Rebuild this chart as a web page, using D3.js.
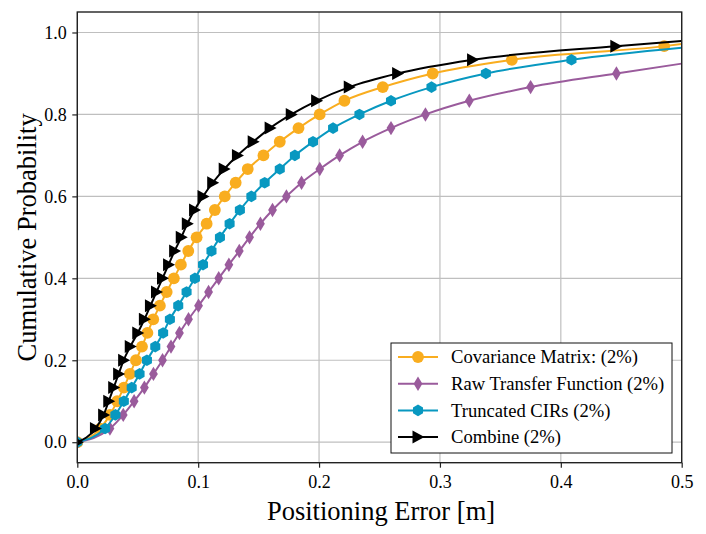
<!DOCTYPE html>
<html><head><meta charset="utf-8">
<script src="https://cdn.jsdelivr.net/npm/d3@7"></script>
<style>body{margin:0;background:#fff}svg{display:block}text{font-family:"Liberation Serif","DejaVu Serif",serif;}</style>
</head><body><svg id="c" width="706" height="534"></svg>
<script>
// probability levels at which markers sit
const levels = [0, 0.0333, 0.0667, 0.1, 0.1333, 0.1667, 0.2, 0.2333, 0.2667, 0.3, 0.3333, 0.3667, 0.4, 0.4333, 0.4667, 0.5, 0.5333, 0.5667, 0.6, 0.6333, 0.6667, 0.7, 0.7333, 0.7667, 0.8, 0.8333, 0.8667, 0.9, 0.9333, 0.9667];
// positioning error (m) at each level
const covX   = [0, 0.019, 0.027, 0.033, 0.0385, 0.0435, 0.0485, 0.0535, 0.058, 0.0628, 0.0683, 0.0739, 0.0799, 0.0857, 0.0918, 0.0987, 0.107, 0.1138, 0.122, 0.131, 0.141, 0.154, 0.1675, 0.183, 0.2005, 0.221, 0.2527, 0.294, 0.3595, 0.4855];
const rawX   = [0, 0.027, 0.038, 0.047, 0.0555, 0.063, 0.0705, 0.0775, 0.0845, 0.092, 0.1003, 0.1086, 0.117, 0.1254, 0.134, 0.1425, 0.1515, 0.1615, 0.173, 0.1855, 0.2006, 0.217, 0.236, 0.2595, 0.288, 0.3243, 0.375, 0.446];
const truncX = [0, 0.023, 0.0315, 0.0385, 0.045, 0.0515, 0.0576, 0.0645, 0.071, 0.0766, 0.0835, 0.0904, 0.0973, 0.104, 0.111, 0.118, 0.126, 0.1345, 0.144, 0.155, 0.1675, 0.18, 0.195, 0.2116, 0.2334, 0.2595, 0.293, 0.338, 0.4088];
const combX  = [0, 0.015, 0.0218, 0.026, 0.0301, 0.0342, 0.0383, 0.0438, 0.05, 0.0555, 0.0605, 0.0655, 0.0705, 0.0755, 0.0805, 0.086, 0.091, 0.097, 0.104, 0.112, 0.1215, 0.1325, 0.1455, 0.1595, 0.177, 0.198, 0.225, 0.265, 0.327, 0.4455];
// value of each curve at the right edge (x = 0.5)
const covEnd = [0.5, 0.972];
const rawEnd = [0.5, 0.924];
const truncEnd = [0.5, 0.9625];
const combEnd = [0.5, 0.9795];
const seriesNames = ["Covariance Matrix: (2%)", "Raw Transfer Function (2%)", "Truncated CIRs (2%)", "Combine (2%)"];
const xTicks = [0, 0.1, 0.2, 0.3, 0.4, 0.5];
const yTicks = [0, 0.2, 0.4, 0.6, 0.8, 1.0];

const colors = ["#f9ad1f", "#9a5b9c", "#0898c0", "#000000"];
const shapes = ["circle", "diamond", "hexagon", "triangle"];
const xs = [covX, rawX, truncX, combX];
const ends = [covEnd, rawEnd, truncEnd, combEnd];

const svg = d3.select("#c");
const L = 77.3, R = 681.7, T = 12, B = 462.7;
const x = d3.scaleLinear().domain([0, 0.5]).range([L, R]);
const y = d3.scaleLinear().domain([-0.05, 1.05]).range([B, T]);

svg.append("defs").append("clipPath").attr("id","clip").append("rect")
  .attr("x", L).attr("y", T).attr("width", R-L).attr("height", B-T);

// grid
const g = svg.append("g");
g.selectAll(".gx").data(xTicks).enter().append("line")
  .attr("x1", d=>x(d)).attr("x2", d=>x(d)).attr("y1", T).attr("y2", B)
  .attr("stroke", "#bfbfbf").attr("stroke-width", 1.2);
g.selectAll(".gy").data(yTicks).enter().append("line")
  .attr("y1", d=>y(d)).attr("y2", d=>y(d)).attr("x1", L).attr("x2", R)
  .attr("stroke", "#bfbfbf").attr("stroke-width", 1.2);

function markerPath(shape) {
  if (shape === "circle") return d3.symbol(d3.symbolCircle, 110)();
  if (shape === "diamond") return "M0,-7.2L4.4,0L0,7.2L-4.4,0Z";
  if (shape === "hexagon") {
    const r = 5.8; let p = "";
    for (let i=0;i<6;i++){ const a = Math.PI/2 + i*Math.PI/3; p += (i?"L":"M") + (r*Math.cos(a)).toFixed(2) + "," + (r*Math.sin(a)).toFixed(2); }
    return p + "Z";
  }
  return "M6.5,0L-5.5,-6.5L-5.5,6.5Z";
}

const plot = svg.append("g").attr("clip-path", "url(#clip)");
const line = d3.line().x(d=>x(d[0])).y(d=>y(d[1])).curve(d3.curveMonotoneX);

xs.forEach((arr, i) => {
  const pts = arr.map((v, k) => [v, levels[k]]);
  const linePts = pts.concat([ends[i]]);
  plot.append("path").attr("d", line(linePts)).attr("fill", "none")
    .attr("stroke", colors[i]).attr("stroke-width", 2);
  plot.selectAll(".m"+i).data(pts).enter().append("path")
    .attr("d", markerPath(shapes[i]))
    .attr("transform", d => `translate(${x(d[0])},${y(d[1])})`)
    .attr("fill", colors[i]);
});

// frame
svg.append("rect").attr("x", L).attr("y", T).attr("width", R-L).attr("height", B-T)
  .attr("fill", "none").attr("stroke", "#222").attr("stroke-width", 1.4);

// axes
const xa = svg.append("g").attr("transform", `translate(0,${B})`)
  .call(d3.axisBottom(x).tickValues(xTicks).tickFormat(d3.format(".1f")).tickSize(5).tickPadding(8));
const ya = svg.append("g").attr("transform", `translate(${L},0)`)
  .call(d3.axisLeft(y).tickValues(yTicks).tickFormat(d3.format(".1f")).tickSize(5).tickPadding(5.5));
[xa, ya].forEach(a => {
  a.select(".domain").remove();
  a.selectAll("line").attr("stroke", "#222").attr("stroke-width", 1.2);
  a.selectAll("text").attr("font-size", 18).attr("fill", "#000")
    .style("font-family", '"Liberation Serif", serif');
});

svg.append("text").attr("x", 381).attr("y", 519.5).attr("text-anchor", "middle")
  .attr("font-size", 26.5).text("Positioning Error [m]");
svg.append("text").attr("transform", `translate(36,${(T+B)/2}) rotate(-90)`)
  .attr("text-anchor", "middle").attr("font-size", 26.5).text("Cumulative Probability");

// legend
const lg = svg.append("g");
lg.append("rect").attr("x", 391).attr("y", 343).attr("width", 281).attr("height", 110)
  .attr("fill", "#fff").attr("stroke", "#111").attr("stroke-width", 1);
seriesNames.forEach((name, i) => {
  const yy = 357 + i*26.7;
  lg.append("line").attr("x1", 398).attr("x2", 438).attr("y1", yy).attr("y2", yy)
    .attr("stroke", colors[i]).attr("stroke-width", 2);
  lg.append("path").attr("d", markerPath(shapes[i])).attr("transform", `translate(418,${yy})`)
    .attr("fill", colors[i]);
  lg.append("text").attr("x", 451).attr("y", yy).attr("dy", "0.33em")
    .attr("font-size", 18.6).text(name);
});
</script></body></html>
